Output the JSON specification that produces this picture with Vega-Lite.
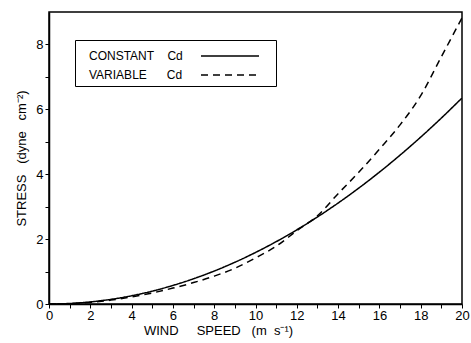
{
  "$schema": "https://vega.github.io/schema/vega-lite/v6.json",
  "width": 413,
  "height": 292,
  "autosize": {"type": "none"},
  "padding": {"left": 49, "top": 12, "right": 9, "bottom": 39},
  "background": "white",
  "config": {
    "font": "Liberation Sans",
    "view": {"stroke": "black", "strokeWidth": 1.5},
    "axis": {
      "domainColor": "black",
      "domainWidth": 1.5,
      "tickColor": "black",
      "tickWidth": 1,
      "tickSize": 4,
      "labelColor": "black",
      "labelFontSize": 13,
      "titleColor": "black",
      "titleFontSize": 13,
      "titleFontWeight": "normal",
      "grid": false
    }
  },
  "data": {
    "values": [
      {"u": 0, "stress": 0, "series": "CONSTANT"},
      {"u": 1, "stress": 0.016, "series": "CONSTANT"},
      {"u": 2, "stress": 0.064, "series": "CONSTANT"},
      {"u": 3, "stress": 0.143, "series": "CONSTANT"},
      {"u": 4, "stress": 0.254, "series": "CONSTANT"},
      {"u": 5, "stress": 0.397, "series": "CONSTANT"},
      {"u": 6, "stress": 0.572, "series": "CONSTANT"},
      {"u": 7, "stress": 0.778, "series": "CONSTANT"},
      {"u": 8, "stress": 1.016, "series": "CONSTANT"},
      {"u": 9, "stress": 1.286, "series": "CONSTANT"},
      {"u": 10, "stress": 1.588, "series": "CONSTANT"},
      {"u": 11, "stress": 1.921, "series": "CONSTANT"},
      {"u": 12, "stress": 2.286, "series": "CONSTANT"},
      {"u": 13, "stress": 2.683, "series": "CONSTANT"},
      {"u": 14, "stress": 3.112, "series": "CONSTANT"},
      {"u": 15, "stress": 3.572, "series": "CONSTANT"},
      {"u": 16, "stress": 4.064, "series": "CONSTANT"},
      {"u": 17, "stress": 4.588, "series": "CONSTANT"},
      {"u": 18, "stress": 5.144, "series": "CONSTANT"},
      {"u": 19, "stress": 5.731, "series": "CONSTANT"},
      {"u": 20, "stress": 6.35, "series": "CONSTANT"},
      {"u": 0, "stress": 0, "series": "VARIABLE"},
      {"u": 1, "stress": 0.012, "series": "VARIABLE"},
      {"u": 2, "stress": 0.05, "series": "VARIABLE"},
      {"u": 3, "stress": 0.12, "series": "VARIABLE"},
      {"u": 4, "stress": 0.22, "series": "VARIABLE"},
      {"u": 5, "stress": 0.34, "series": "VARIABLE"},
      {"u": 6, "stress": 0.49, "series": "VARIABLE"},
      {"u": 7, "stress": 0.66, "series": "VARIABLE"},
      {"u": 8, "stress": 0.86, "series": "VARIABLE"},
      {"u": 9, "stress": 1.1, "series": "VARIABLE"},
      {"u": 10, "stress": 1.42, "series": "VARIABLE"},
      {"u": 11, "stress": 1.78, "series": "VARIABLE"},
      {"u": 12, "stress": 2.26, "series": "VARIABLE"},
      {"u": 13, "stress": 2.72, "series": "VARIABLE"},
      {"u": 14, "stress": 3.4, "series": "VARIABLE"},
      {"u": 15, "stress": 4.06, "series": "VARIABLE"},
      {"u": 16, "stress": 4.77, "series": "VARIABLE"},
      {"u": 17, "stress": 5.52, "series": "VARIABLE"},
      {"u": 18, "stress": 6.42, "series": "VARIABLE"},
      {"u": 19, "stress": 7.62, "series": "VARIABLE"},
      {"u": 20, "stress": 8.82, "series": "VARIABLE"}
    ]
  },
  "mark": {"type": "line", "color": "black", "strokeWidth": 1.5, "interpolate": "monotone", "clip": true},
  "encoding": {
    "x": {
      "field": "u",
      "type": "quantitative",
      "scale": {"domain": [0, 20], "nice": false},
      "axis": {
        "title": "WIND\u00a0\u00a0\u00a0\u00a0\u00a0SPEED\u00a0\u00a0\u00a0(m\u00a0\u00a0s⁻¹)",
        "titleX": 169,
        "titlePadding": 2,
        "values": [0,1,2,3,4,5,6,7,8,9,10,11,12,13,14,15,16,17,18,19,20],
        "labelExpr": "datum.value % 2 === 0 ? datum.label : ''",
        "labelPadding": 1,
        "labelFlush": false
      }
    },
    "y": {
      "field": "stress",
      "type": "quantitative",
      "scale": {"domain": [0, 9], "nice": false},
      "axis": {
        "title": "STRESS\u00a0\u00a0\u00a0(dyne\u00a0\u00a0\u00a0cm⁻²)",
        "titlePadding": 7,
        "values": [0,1,2,3,4,5,6,7,8],
        "labelExpr": "datum.value % 2 === 0 ? datum.label : ''",
        "labelPadding": 2
      }
    },
    "strokeDash": {
      "field": "series",
      "type": "nominal",
      "scale": {"domain": ["CONSTANT", "VARIABLE"], "range": [[1, 0], [7, 5]]},
      "legend": {
        "title": null,
        "orient": "none",
        "legendX": 26,
        "legendY": 28,
        "labelExpr": "datum.label === 'CONSTANT' ? '\u00a0\u00a0\u00a0CONSTANT\u00a0\u00a0\u00a0\u00a0Cd' : '\u00a0\u00a0\u00a0VARIABLE\u00a0\u00a0\u00a0\u00a0\u00a0\u00a0Cd'",
        "symbolType": "M-2.9,0H2.9M3.75,0H3.75",
        "symbolSize": 400,
        "symbolFillColor": "transparent",
        "symbolStrokeWidth": 1.5,
        "symbolStrokeColor": "black",
        "symbolOffset": 139,
        "labelAlign": "left",
        "labelOffset": -152,
        "labelFontSize": 12,
        "labelColor": "black",
        "rowPadding": 2,
        "strokeColor": "black",
        "fillColor": "white",
        "padding": 5
      }
    }
  }
}
